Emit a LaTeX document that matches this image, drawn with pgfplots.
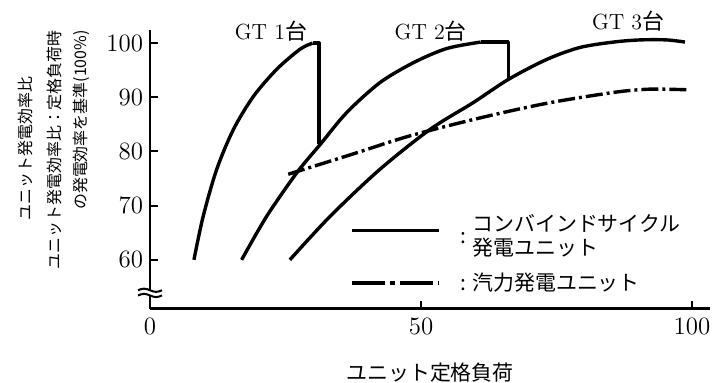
\documentclass[border=0pt]{standalone}
\usepackage{pgfplots}
\pgfplotsset{compat=1.18}
\usepackage{fontspec}
\newfontfamily\jp{Noto Sans CJK JP}
\pgfplotsset{steamleg/.style={legend image code/.code={\draw[##1, dash pattern=on 16.5bp off 2.5bp on 2.5bp off 2.5bp] (0bp,0bp) -- (43.5bp,0bp);}}}

\begin{document}
\begin{tikzpicture}
\begin{axis}[
  scale only axis, width=280bp, height=139.5bp,
  xmin=0, xmax=103.3, ymin=51, ymax=102.5,
  axis x line=bottom, axis y line=left,
  axis line style={-, line width=1.1bp},
  xtick={0,50,100}, ytick={60,70,80,90,100},
  tick align=inside, major tick length=4bp,
  tick style={line width=1bp, black},
  /pgf/number format/assume math mode=true,
  tick label style={font=\fontsize{12.5}{13}\selectfont},
  xticklabel style={yshift=-1bp},
  clip=false,
  legend style={at={(0.357,0.355)}, anchor=north west, draw=none, fill=none,
    inner sep=0pt, row sep=9bp, column sep=0bp,
    font=\jp\fontsize{10.5}{11.5}\selectfont, cells={anchor=west}},
  legend cell align=left,
  legend image code/.code={\draw[#1] (0bp,0bp) -- (43.5bp,0bp);},
  every axis plot/.append style={line width=1.7bp, black, line join=round},
]
% GT 1
\addplot[smooth] coordinates {(8.1,60) (9.8,68) (12.3,76.7) (15.4,84.1) (19.1,90.2) (23.4,95.2) (27.7,98.9) (30.0,100)};
\addlegendentry{\hspace{8bp}:\hspace{3bp}\begin{tabular}[c]{@{}l@{}}コンバインドサイクル\\発電ユニット\end{tabular}}
\addplot[forget plot, sharp plot] coordinates {(30.0,100) (31.2,100) (31.2,81.3)};
% GT 2
\addplot[forget plot, smooth] coordinates {(16.9,60) (21.5,68) (27.1,76.1) (31.4,81.3) (36.3,87.2) (42.4,92.7) (48.6,96.4) (54.7,99.0) (61.0,100.2)};
\addplot[forget plot, sharp plot] coordinates {(61.0,100.2) (66.1,100.2) (66.1,93.3)};
% GT 3
\addplot[forget plot, smooth] coordinates {(25.8,60) (33.2,68) (42.4,76.7) (51.7,84.1) (59.6,89.0) (66.1,93.3) (73.2,97.0) (79.3,99.2) (85.5,100.2) (90.4,100.6) (95.3,100.6) (98.7,100.2)};
% steam
\addplot[smooth, dash pattern=on 8.5bp off 2bp on 1.5bp off 2bp, steamleg]
  coordinates {(25.5,75.8) (37,79.4) (48,82.9) (60.9,86.2) (73.2,88.9) (85.5,90.9) (92,91.5) (99,91.4)};
\addlegendentry{\hspace{8bp}:\hspace{3bp}汽力発電ユニット}

\node[font=\fontsize{11}{12}\selectfont] at (axis cs:22.3,102.25) {GT 1{\jp 台}};
\node[font=\fontsize{11}{12}\selectfont] at (axis cs:51.8,102.25) {GT 2{\jp 台}};
\node[font=\fontsize{11}{12}\selectfont] at (axis cs:88.2,104.0) {GT 3{\jp 台}};

\node[rotate=90, font=\jp\fontsize{8}{13}\selectfont, inner sep=0pt] at (axis cs:-22.97,80.57) {ユニット発電効率比};
\node[rotate=90, font=\jp\fontsize{8}{13}\selectfont, inner sep=0pt, align=right, anchor=east] at (axis cs:-15.04,102.44) {ユニット発電効率比：定格負荷時\\の発電効率を基準(100\%)};
\node[font=\jp\fontsize{10.5}{12}\selectfont] at (axis cs:51.66,39.15) {ユニット定格負荷};

\coordinate (brk) at (axis cs:0,53.9);
\coordinate (BBL) at (axis cs:-27.68,37.31);
\coordinate (BTR) at (axis cs:103.87,107.97);
\end{axis}
\begin{scope}[shift={(brk)}]
\fill[white] (-6bp,-1.3bp) rectangle (6bp,1.3bp);
\draw[line width=1bp] (-6bp,1.3bp) sin (-3bp,2.1bp) cos (0bp,1.3bp) sin (3bp,0.5bp) cos (6bp,1.3bp);
\draw[line width=1bp] (-6bp,-1.3bp) sin (-3bp,-0.5bp) cos (0bp,-1.3bp) sin (3bp,-2.1bp) cos (6bp,-1.3bp);
\end{scope}
\pgfresetboundingbox
\path (BBL) rectangle (BTR);
\end{tikzpicture}
\end{document}
